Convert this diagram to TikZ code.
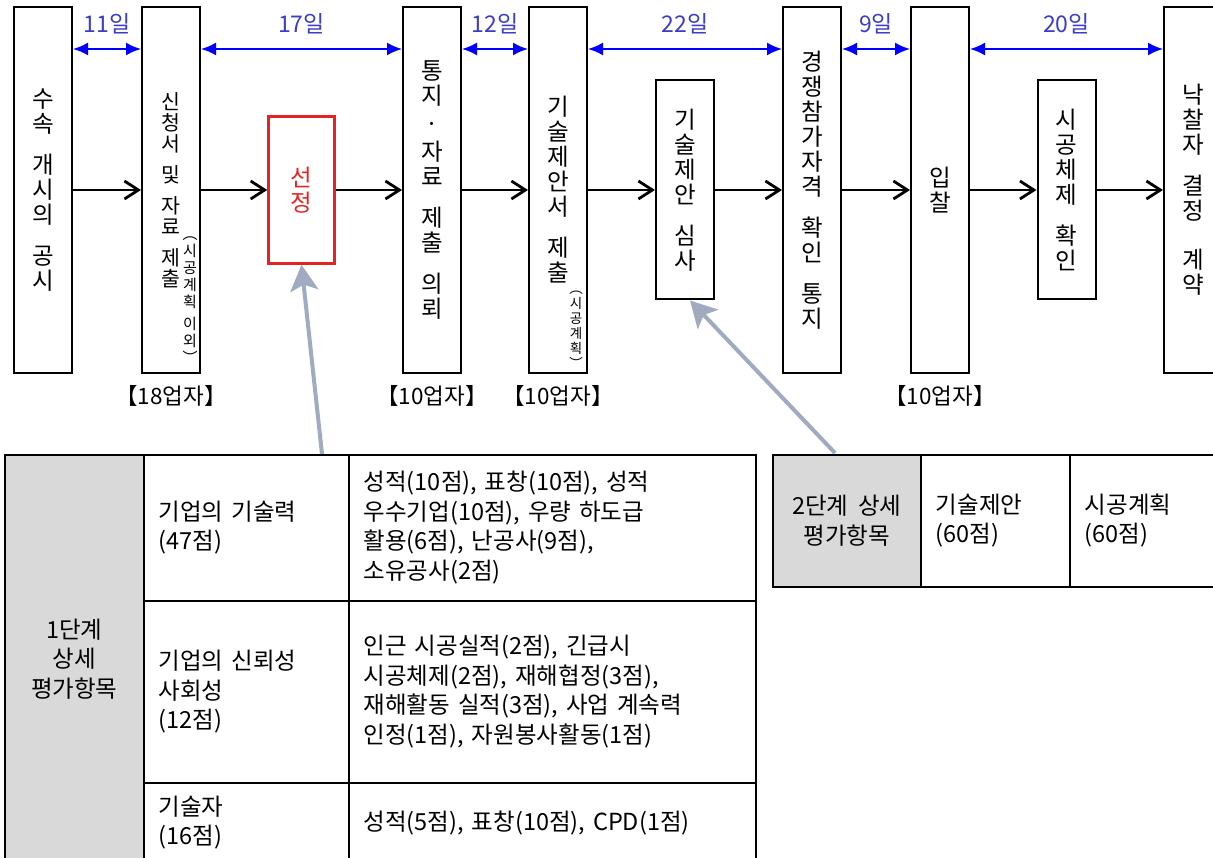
\documentclass[tikz,border=0pt]{standalone}
\usepackage{fontspec}
\setmainfont{Noto Sans CJK KR}
\newfontfamily\tabkr{Noto Sans CJK KR}[WordSpace=1.8]
\usetikzlibrary{arrows.meta, positioning, calc}
\definecolor{spanblue}{RGB}{0,0,255}
\definecolor{daytext}{RGB}{60,60,200}
\definecolor{pickred}{RGB}{230,35,35}
\definecolor{headgray}{RGB}{217,217,217}
\definecolor{pointgray}{RGB}{160,170,192}
\newcommand\vgap{\\[16pt]}
\tikzset{
  stage/.style={
    draw, line width=2pt, minimum width=58pt, minimum height=366pt,
    inner sep=0pt, align=center, font=\fontsize{23.5}{25}\selectfont
  },
  substage/.style={stage, minimum height=219pt},
  pick/.style={
    stage, draw=pickred, text=pickred, line width=2.5pt,
    minimum width=66pt, minimum height=147pt
  },
  note/.style={inner sep=0pt, align=center},
  flow/.style={-{Straight Barb[length=14pt,width=18pt]}, line width=2.8pt},
  span/.style={
    {Latex[length=15pt,width=13pt]}-{Latex[length=15pt,width=13pt]},
    draw=spanblue, line width=2pt
  },
  days/.style={text=daytext, font=\fontsize{23}{24}\selectfont},
  firms/.style={font=\fontsize{22.5}{24}\selectfont},
  pointer/.style={-{Stealth[length=26pt,width=28pt,inset=6pt]}, draw=pointgray, line width=4pt},
  cell/.style={
    draw, line width=1.5pt, anchor=north west, inner xsep=15pt, inner ysep=0pt,
    align=left, font=\tabkr\fontsize{23.5}{29.5}\selectfont
  },
  head/.style={cell, fill=headgray, align=center, inner xsep=0pt}
}
\begin{document}
\begin{tikzpicture}[x=1pt, y=-1pt]
  \useasboundingbox (0,0) rectangle (1213,858);
  \clip (0,0) rectangle (1213,858);

  % process steps
  \node[stage] (b1) at (43,190) {수\\속\vgap 개\\시\\의\vgap 공\\시};
  \node[stage, right=68pt of b1, font=\fontsize{20.5}{21}\selectfont] (b2)
    {신\\청\\서\\[10pt]및\\[10pt]자\\료\\[10pt]제\\출};
  \node[stage, right=201pt of b2] (b3) {통\\지\\[3pt]·\\[3pt]자\\료\vgap 제\\출\vgap 의\\뢰};
  \node[stage, right=66pt of b3] (b4) {기\\술\\제\\안\\서\vgap 제\\출};
  \node[stage, right=194pt of b4] (b5) {경\\쟁\\참\\가\\자\\격\vgap 확\\인\vgap 통\\지};
  \node[stage, right=68pt of b5] (b6) {입\\찰};
  \node[stage, right=193pt of b6] (b7) {낙\\찰\\자\vgap 결\\정\\[24pt]계\\약};

  \node[pick] (pick) at ($(b2)!0.5!(b3)$) {선\\정};
  \node[substage] (review) at ($(b4)!0.5!(b5)$) {기\\술\\제\\안\vgap 심\\사};
  \node[substage] (check) at ($(b6)!0.5!(b7)$) {시\\공\\체\\제\vgap 확\\인};

  % small notes beside the text
  \node[note, font=\fontsize{15}{17}\selectfont] (n2) at ([xshift=-11pt,yshift=74pt]b2.south east)
    {︵\\시\\공\\계\\획\\[5pt]이\\외\\︶};
  \node[note, font=\fontsize{13.5}{15}\selectfont] (n4) at ([xshift=-12pt,yshift=44pt]b4.south east)
    {︵\\시\\공\\계\\획\\︶};

  \foreach \a/\b in {b1/b2, b2/pick, pick/b3, b3/b4, b4/review, review/b5, b5/b6, b6/check, check/b7}
    \draw[flow] (\a) -- (\b);

  \foreach \a/\b/\d in {b1/b2/11, b2/b3/17, b3/b4/12, b4/b5/22, b5/b6/9, b6/b7/20}
    \draw[span] ([yshift=-43pt]\a.north east) -- ([yshift=-43pt]\b.north west)
      node[days, midway, yshift=25pt] {\d{}일};

  \foreach \b/\n in {b2/18, b3/10, b4/10, b6/10}
    \node[firms, below=8pt of \b] (f\b) {【\n{}업자】};

  % first stage table
  \node[head, minimum width=139pt, minimum height=408pt] (s1) at (4,454) {1단계\\상세\\평가항목};
  \node[cell, text width=175pt, minimum height=146pt] (r1a) at (143,454) {기업의 기술력\\(47점)};
  \node[cell, text width=377pt, minimum height=146pt] (r1b) at (348,454)
    {성적(10점), 표창(10점), 성적\\우수기업(10점), 우량 하도급\\활용(6점), 난공사(9점),\\소유공사(2점)};
  \node[cell, text width=175pt, minimum height=182pt] (r2a) at (143,600) {기업의 신뢰성\\사회성\\(12점)};
  \node[cell, text width=377pt, minimum height=182pt] (r2b) at (348,600)
    {인근 시공실적(2점), 긴급시\\시공체제(2점), 재해협정(3점),\\재해활동 실적(3점), 사업 계속력\\인정(1점), 자원봉사활동(1점)};
  \node[cell, text width=175pt, minimum height=80pt] (r3a) at (143,782) {기술자\\(16점)};
  \node[cell, text width=377pt, minimum height=80pt] (r3b) at (348,782) {성적(5점), 표창(10점), CPD(1점)};

  % second stage table
  \node[head, minimum width=148pt, minimum height=132pt] (s2) at (772,454) {2단계 상세\\평가항목};
  \node[cell, text width=119pt, minimum height=132pt] (t2a) at (920,454) {기술제안\\(60점)};
  \node[cell, text width=121pt, minimum height=132pt] (t2b) at (1069,454) {시공계획\\(60점)};

  \coordinate (p1) at (322,454);
  \coordinate (p2) at (835,453);
  \draw[pointer] (p1) -- (pick.south);
  \draw[pointer] (p2) -- ([xshift=5pt]review.south);
\end{tikzpicture}
\end{document}
